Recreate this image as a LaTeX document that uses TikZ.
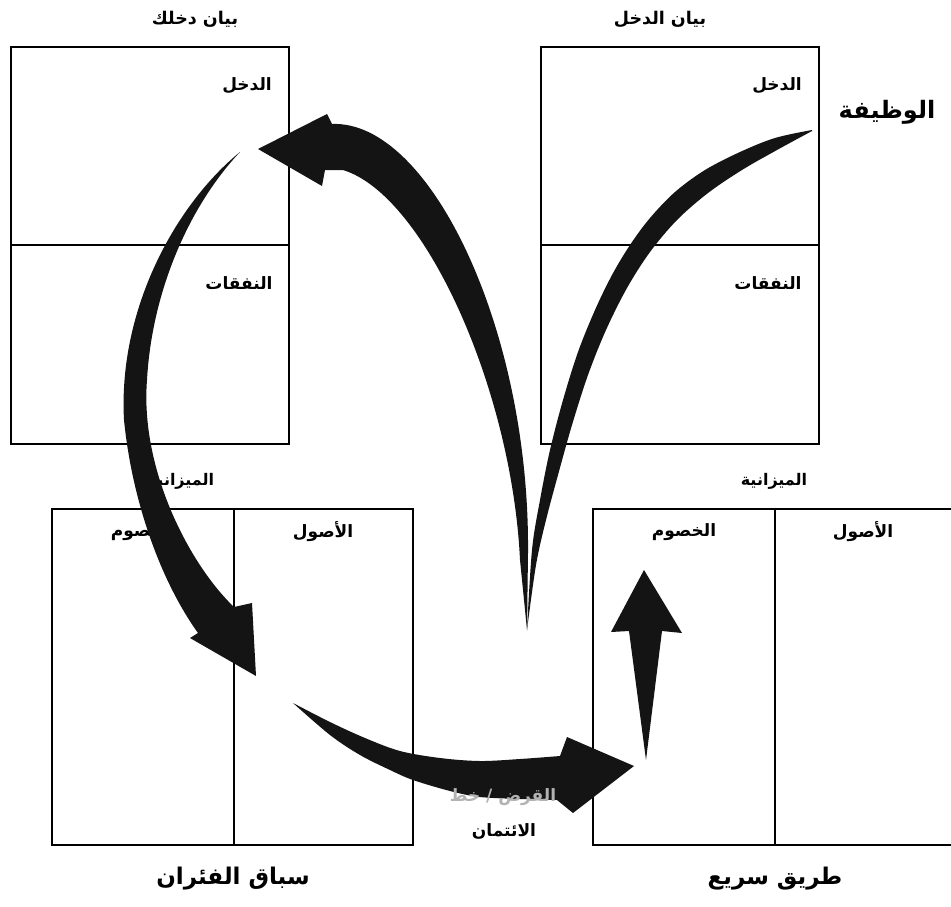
\documentclass[tikz,border=0pt]{standalone}
\usepackage{fontspec}
\newfontfamily\arabicfont[Script=Arabic]{DejaVu Sans}
\TeXXeTstate=1
\begin{document}
\begin{tikzpicture}[x=1pt,y=-1pt,
  box/.style={draw=black,line width=1.6pt,inner sep=0pt,outer sep=0pt,anchor=north west},
  divline/.style={draw=black,line width=1.6pt},
  lbl/.style={font=\arabicfont\bfseries\fontsize{17}{20}\selectfont,inner sep=0pt},
  ttl/.style={font=\arabicfont\bfseries\fontsize{17.5}{20}\selectfont,inner sep=0pt},
  sht/.style={font=\arabicfont\bfseries\fontsize{16}{19}\selectfont,inner sep=0pt},
  bigl/.style={font=\arabicfont\bfseries\fontsize{24}{28}\selectfont,inner sep=0pt},
  botl/.style={font=\arabicfont\bfseries\fontsize{23}{27}\selectfont,inner sep=0pt},
  arr/.style={fill=black!92}]
\useasboundingbox (0,0) rectangle (951,906);
\clip (0,0) rectangle (951,906);
\fill[white] (0,0) rectangle (951,906);

% boxes
\node[box,minimum width=278pt,minimum height=397pt] (tlbox) at (11,47) {};
\node[box,minimum width=278pt,minimum height=397pt] (trbox) at (541,47) {};
\node[box,minimum width=361pt,minimum height=336pt] (blbox) at (52,509) {};
\node[box,minimum width=362pt,minimum height=336pt] (brbox) at (593,509) {};
\draw[divline] (11,245) -- (289,245);
\draw[divline] (541,245) -- (819,245);
\draw[divline] (234,509) -- (234,845);
\draw[divline] (775,509) -- (775,845);

% labels
\node[ttl] (tltitle) at (195,19) {\beginR بيان دخلك\endR};
\node[ttl] (trtitle) at (660,19) {\beginR بيان الدخل\endR};
\node[lbl] (tlinc) at (247,86) {\beginR الدخل\endR};
\node[lbl] (tlexp) at (239,283) {\beginR النفقات\endR};
\node[lbl] (trinc) at (777,86) {\beginR الدخل\endR};
\node[lbl] (trexp) at (768,283) {\beginR النفقات\endR};
\node[bigl] (job) at (887,112) {\beginR الوظيفة\endR};
\node[sht] (bltitle) at (181,481) {\beginR الميزانية\endR};
\node[sht] (trtitle2) at (774,481) {\beginR الميزانية\endR};
\node[lbl] (blliab) at (143,532) {\beginR الخصوم\endR};
\node[lbl] (blass) at (323,532) {\beginR الأصول\endR};
\node[lbl] (brliab) at (684,532) {\beginR الخصوم\endR};
\node[lbl] (brass) at (863,532) {\beginR الأصول\endR};
\node[botl] (rat) at (233,879) {\beginR سباق الفئران\endR};
\node[botl] (fast) at (775,879) {\beginR طريق سريع\endR};

% big arrow: V tip -> income of left statement
\coordinate (vtip) at (527,630);
\coordinate (inctip) at (258,149);
\fill[arr] (vtip) -- (528,553) .. controls (530,330) and (430,120) .. (332,124)
  -- (327,114) -- (inctip) -- (322,186) -- (325,170) -- (343,170)
  .. controls (425,195) and (512,390) .. (520,560)
  .. controls (523,590) .. (vtip) -- cycle;

% right stroke of the V: from job income down to V tip
\coordinate (jobstart) at (812,130);
\fill[arr] plot[smooth,tension=0.55] coordinates {(jobstart) (775,138) (740,152) (705,170) (675,192) (650,218) (630,245) (612,275) (595,310) (578,352) (563,400) (550,450) (540,500) (532,550) (vtip)}
  -- plot[smooth,tension=0.55] coordinates {(vtip) (536,565) (546,520) (558,475) (572,425) (588,375) (606,330) (627,288) (650,252) (677,220) (708,193) (742,170) (777,150) (812,131)} -- cycle;

% arrow: left statement -> left balance sheet
\coordinate (lstart) at (240,152);
\coordinate (lbtip) at (256,676);
\fill[arr] (lstart) .. controls (175,205) and (118,310) .. (124,420)
  .. controls (132,500) and (160,580) .. (198,633)
  -- (190,638) -- (lbtip) -- (252,603) -- (234,607)
  .. controls (190,565) and (140,470) .. (147,380)
  .. controls (152,290) and (190,205) .. (lstart) -- cycle;

% arrow: left balance sheet -> right balance sheet (loans / credit line)
\coordinate (bstart) at (293,703);
\coordinate (brtip) at (634,766);
\fill[arr] plot[smooth,tension=0.55] coordinates {(bstart) (330,722) (365,738) (400,751) (440,758) (480,761) (520,759) (560,756)}
  -- (567,737) -- (brtip) -- (573,813) -- (557,800)
  -- plot[smooth,tension=0.55] coordinates {(520,799) (480,797) (450,791) (413,780) (390,770) (360,755) (330,735) (bstart)} -- cycle;
\node[lbl,text=black!30] (loan1) at (503,797) {\beginR القرض / خط\endR};
\node[lbl] (loan2) at (504,831) {\beginR الائتمان\endR};

% up arrow in right liabilities
\coordinate (uptip) at (644,570);
\coordinate (upbase) at (646,760);
\fill[arr] (upbase) -- (629,631) -- (611,632) -- (uptip) -- (682,633) -- (662,631) -- cycle;
\end{tikzpicture}
\end{document}
